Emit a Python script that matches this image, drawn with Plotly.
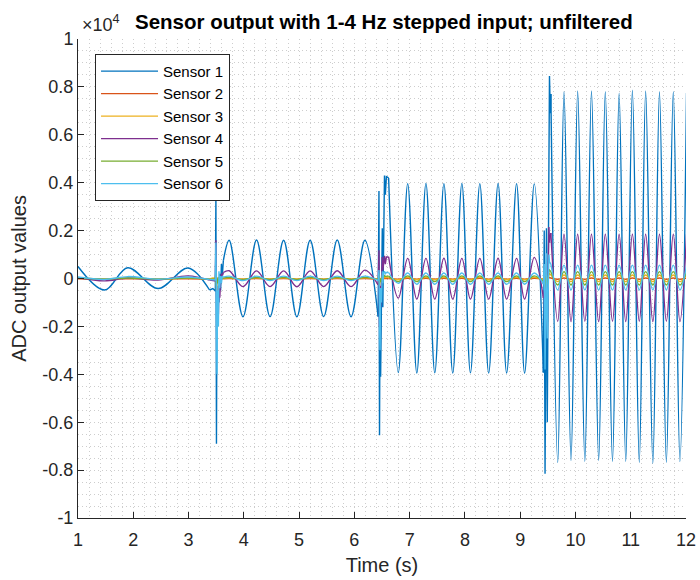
import plotly.graph_objects as go

# ---------------------------------------------------------------------------
# Sensor output with a 1-4 Hz stepped input (raw ADC counts, unfiltered).
# Each steady section is stored as the times of its successive extrema and
# the sensor values there; the steps between sections are stored as samples.
# ---------------------------------------------------------------------------

NAMES = ["Sensor 1", "Sensor 2", "Sensor 3", "Sensor 4", "Sensor 5", "Sensor 6"]
COLORS = ["#0072BD", "#D95319", "#EDB120", "#7E2F8E", "#77AC30", "#4DBEEE"]

# extrema times (s) of the steady sections
T_A = [1.00, 1.48, 1.90, 2.45, 2.99, 3.38]
T_B = [3.63, 3.735, 3.985, 4.23, 4.475, 4.72, 4.96, 5.20, 5.445, 5.69, 5.94, 6.19, 6.43]
T_C = [6.62, 6.795, 6.965, 7.13, 7.295, 7.455, 7.62, 7.78, 7.945, 8.10, 8.27, 8.43,
       8.60, 8.755, 8.935, 9.08, 9.255, 9.42]
T_D = [9.555, 9.68, 9.793, 9.92, 10.04, 10.17, 10.29, 10.42, 10.54, 10.67, 10.79,
       10.91, 11.03, 11.155, 11.27, 11.40, 11.52, 11.645, 11.77, 11.89, 12.01]

# sample times (s) of the transients at each frequency step
STEP1_T = [3.44, 3.485, 3.495, 3.505, 3.515, 3.525, 3.54, 3.55, 3.565, 3.58, 3.595, 3.61]
STEP2_T = [6.445, 6.455, 6.465, 6.475, 6.49, 6.505, 6.515, 6.53, 6.545, 6.56, 6.58]
STEP3_T = [9.435, 9.45, 9.465, 9.475, 9.49, 9.505, 9.52, 9.53, 9.545]

# Sensor 1
S1_A = [500, -480, 450, -420, 440, -480]
S1_B = [750, 1600, -1595, 1605, -1590, 1600, -1595, 1600, -1590, 1605, -1595, 1600, -1590]
S1_C = [4200, -3930, 3960, -3950, 3970, -3940, 3960, -3950, 3970, -3940, 3960, -3950,
        3970, -3945, 3960, -3950, 3950, -3930]
S1_D = [7700, -7680, 7800, -7600, 7830, -7640, 7830, -7600, 7800, -7640, 7740, -7640,
        7860, -7680, 7830, -7720, 7800, -7680, 7800, -7640, 7740]
S1_STEP1 = [-420, -520, 3450, -6900, -600, -1500, -300, -1000, 200, -500, 600, 100]
S1_STEP2 = [3650, -6550, -600, -4100, -500, 2100, -1200, 2800, 4300, 3500, 4250]
S1_STEP3 = [2000, -8150, -2000, 2100, -6000, 1500, 7000, 8450, 6900]

# Sensor 2
S2_A = [-10, -25, -10, -25, -10, -25]
S2_B = [-10, 0, -30, 0, -30, 0, -30, 0, -30, 0, -30, 0, -30]
S2_C = [0, -30, 10, -30, 10, -30, 10, -30, 10, -30, 10, -30, 10, -30, 10, -30, 10, -30]
S2_D = [20, -30, 20, -30, 20, -30, 20, -30, 20, -30, 20, -30, 20, -30, 20, -30, 20,
        -30, 20, -30, 20]
S2_STEP1 = [-10, -20, 60, -120, 0, -40, 10, -20, 0, -10, 0, -10]
S2_STEP2 = [20, -60, 0, -30, 10, 20, -10, 10, 0, 10, 0]
S2_STEP3 = [10, -80, 0, 20, -50, 10, 30, 40, 20]

# Sensor 3
S3_A = [15, -15, 15, -15, 15, -15]
S3_B = [10, 30, -30, 30, -30, 30, -30, 30, -30, 30, -30, 30, -30]
S3_C = [50, -50, 55, -50, 55, -50, 55, -50, 55, -50, 55, -50, 55, -50, 55, -50, 55, -50]
S3_D = [150, -130, 145, -130, 145, -130, 145, -130, 145, -130, 145, -130, 145, -130,
        145, -130, 145, -130, 145, -130, 145]
S3_STEP1 = [20, 10, 150, -300, 40, -100, 30, -40, 20, -20, 10, 0]
S3_STEP2 = [80, -150, 20, -60, 30, 60, -20, 40, 50, 40, 50]
S3_STEP3 = [60, -300, -100, 80, -200, 60, 150, 200, 150]

# Sensor 4
S4_A = [40, -100, 20, -60, 110, -70]
S4_B = [250, 325, -340, 320, -340, 320, -345, 320, -340, 325, -340, 350, -270]
S4_C = [900, -820, 840, -860, 840, -860, 845, -860, 840, -860, 840, -860, 845, -860,
        840, -860, 880, -820]
S4_D = [1900, -1790, 1850, -1800, 1850, -1790, 1850, -1800, 1850, -1790, 1850, -1800,
        1850, -1790, 1850, -1800, 1850, -1790, 1850, -1800, 1850]
S4_STEP1 = [-70, -100, 1600, -400, -1900, -700, -1500, -300, -800, -100, 200, 100]
S4_STEP2 = [1180, -2000, -300, -1200, 300, 900, 350, 700, 950, 600, 900]
S4_STEP3 = [-480, -2950, -1300, -800, -2000, 500, 2150, 1500, 1900]

# Sensor 5
S5_A = [20, -25, 20, -25, 20, -25]
S5_B = [20, 45, -45, 45, -45, 45, -45, 45, -45, 45, -45, 45, -45]
S5_C = [100, -130, 110, -130, 110, -130, 110, -130, 110, -130, 110, -130, 110, -130,
        110, -130, 110, -130]
S5_D = [280, -270, 285, -270, 285, -270, 285, -270, 285, -270, 285, -270, 285, -270,
        285, -270, 285, -270, 285, -270, 285]
S5_STEP1 = [-20, -30, 300, -500, 0, -200, 50, -100, 40, -30, 30, 0]
S5_STEP2 = [200, -300, 0, -150, 50, 120, 0, 80, 120, 90, 100]
S5_STEP3 = [100, -400, -150, 100, -250, 150, 300, 350, 280]

# Sensor 6
S6_A = [60, -40, 80, -30, 60, -40]
S6_B = [60, 100, -90, 100, -90, 100, -90, 100, -90, 100, -90, 100, -90]
S6_C = [250, -200, 230, -240, 230, -240, 230, -240, 230, -240, 230, -240, 230, -240,
        230, -240, 230, -240]
S6_D = [600, -480, 560, -480, 560, -480, 560, -480, 560, -480, 560, -480, 560, -480,
        560, -480, 560, -480, 560, -480, 560]
S6_STEP1 = [-40, -60, 1500, -1500, -4000, -500, -2000, 300, -400, 100, -200, 100]
S6_STEP2 = [350, -1600, -3000, -400, -1000, 300, -200, 250, 300, 200, 250]
S6_STEP3 = [600, -3800, -1500, 1050, -2500, 200, 1000, 700, 600]

SECTIONS = [
    (S1_A, S1_B, S1_C, S1_D), (S2_A, S2_B, S2_C, S2_D), (S3_A, S3_B, S3_C, S3_D),
    (S4_A, S4_B, S4_C, S4_D), (S5_A, S5_B, S5_C, S5_D), (S6_A, S6_B, S6_C, S6_D),
]
STEPS = [
    (S1_STEP1, S1_STEP2, S1_STEP3), (S2_STEP1, S2_STEP2, S2_STEP3),
    (S3_STEP1, S3_STEP2, S3_STEP3), (S4_STEP1, S4_STEP2, S4_STEP3),
    (S5_STEP1, S5_STEP2, S5_STEP3), (S6_STEP1, S6_STEP2, S6_STEP3),
]

Y_TICKS = [-10000, -8000, -6000, -4000, -2000, 0, 2000, 4000, 6000, 8000, 10000]
Y_TICK_TEXT = ["-1", "-0.8", "-0.6", "-0.4", "-0.2", "0", "0.2", "0.4", "0.6", "0.8", "1"]
X_TICKS = [1, 2, 3, 4, 5, 6, 7, 8, 9, 10, 11, 12]

FONT = "Liberation Sans, Arial, Helvetica, sans-serif"
AXIS_COLOR = "#262626"
GRID_COLOR = "#cdcdcd"
GRID_DASH = "1px,3px"
LINE_W = 1.4

fig = go.Figure()
section_times = (T_A, T_B, T_C, T_D)
step_times = (STEP1_T, STEP2_T, STEP3_T)

for name, color, secs, steps in zip(NAMES, COLORS, SECTIONS, STEPS):
    # steady oscillation sections, drawn smoothly through their extrema
    wx, wy = [], []
    for k, (tt, vv) in enumerate(zip(section_times, secs)):
        assert len(tt) == len(vv)
        if k:
            wx.append(None)
            wy.append(None)
        wx += tt
        wy += vv
    fig.add_trace(go.Scatter(
        x=wx, y=wy, mode="lines", name=name, legendgroup=name,
        line=dict(color=color, width=LINE_W, shape="spline", smoothing=1.0),
        connectgaps=False, hoverinfo="skip",
    ))
    # step transients joining neighbouring sections, drawn straight
    jx, jy = [], []
    for k, (tt, vv) in enumerate(zip(step_times, steps)):
        assert len(tt) == len(vv)
        before_t, before_v = section_times[k][-1], secs[k][-1]
        after_t, after_v = section_times[k + 1][0], secs[k + 1][0]
        if k:
            jx.append(None)
            jy.append(None)
        jx += [before_t] + tt + [after_t]
        jy += [before_v] + vv + [after_v]
    fig.add_trace(go.Scatter(
        x=jx, y=jy, mode="lines", name=name, legendgroup=name, showlegend=False,
        line=dict(color=color, width=LINE_W), connectgaps=False, hoverinfo="skip",
    ))

axis_common = dict(
    showline=True, linecolor=AXIS_COLOR, linewidth=1, mirror=False,
    ticks="inside", ticklen=6, tickwidth=1, tickcolor=AXIS_COLOR,
    tickfont=dict(family=FONT, size=18, color=AXIS_COLOR),
    showgrid=True, gridcolor=GRID_COLOR, gridwidth=1, griddash=GRID_DASH,
    zeroline=False, automargin=False,
)

fig.update_layout(
    width=700, height=580,
    margin=dict(l=77.5, r=13.5, t=39, b=62),
    paper_bgcolor="white", plot_bgcolor="white",
    title=dict(
        text="<b>Sensor output with 1-4 Hz stepped input; unfiltered</b>",
        font=dict(family=FONT, size=20.5, color="black"),
        x=0.503, xref="paper", xanchor="center",
        y=1 - 22 / 580, yref="container", yanchor="middle",
    ),
    xaxis=dict(
        range=[1, 12], tickvals=X_TICKS, ticklabelstandoff=5,
        title=dict(text="Time (s)", font=dict(family=FONT, size=20, color=AXIS_COLOR),
                   standoff=9),
        minor=dict(dtick=0.2, showgrid=True, gridcolor=GRID_COLOR, griddash=GRID_DASH,
                   gridwidth=1, ticks=""),
        **axis_common,
    ),
    yaxis=dict(
        range=[-10000, 10000], tickvals=Y_TICKS, ticktext=Y_TICK_TEXT,
        title=dict(text="ADC output values",
                   font=dict(family=FONT, size=20, color=AXIS_COLOR), standoff=10),
        minor=dict(dtick=500, showgrid=True, gridcolor=GRID_COLOR, griddash=GRID_DASH,
                   gridwidth=1, ticks=""),
        **axis_common,
    ),
    legend=dict(
        x=0.028, y=0.969, xanchor="left", yanchor="top",
        bgcolor="white", bordercolor=AXIS_COLOR, borderwidth=1,
        font=dict(family=FONT, size=15, color="black"),
        tracegroupgap=0, itemwidth=57,
    ),
    annotations=[dict(
        text="×10<sup>4</sup>", xref="paper", yref="paper", x=0.003, y=1.005,
        xanchor="left", yanchor="bottom", showarrow=False,
        font=dict(family=FONT, size=18, color=AXIS_COLOR),
    )],
    showlegend=True,
)

fig.write_html("out.html")
